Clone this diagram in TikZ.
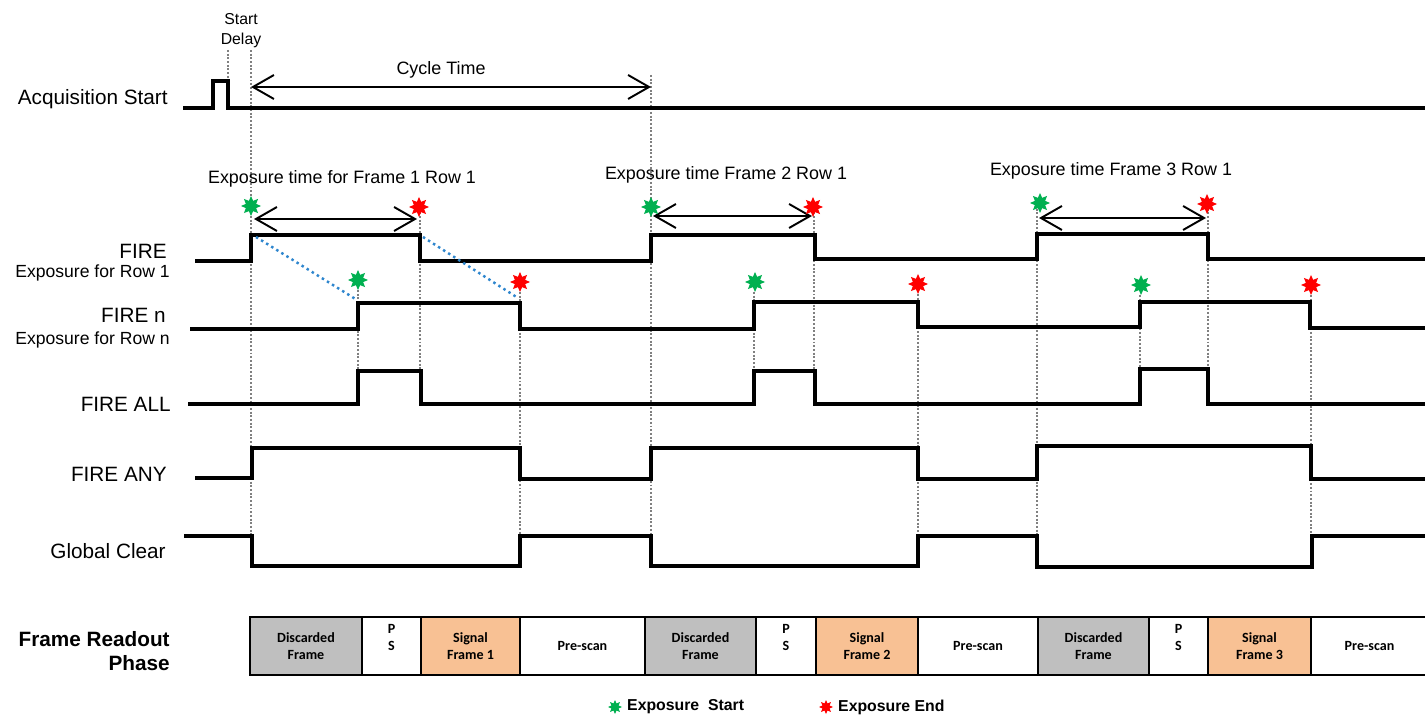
\documentclass[tikz,border=0pt]{standalone}
\usepackage{fontspec}
\setmainfont{Liberation Sans}
\newfontfamily\boxfont{Carlito}
\usepackage{tikz}
\usetikzlibrary{shapes.geometric}
\usetikzlibrary{arrows.meta}
\usepackage{xcolor}

\definecolor{stargreen}{RGB}{0,176,80}
\definecolor{starred}{RGB}{255,0,0}
\definecolor{discgray}{RGB}{191,191,191}
\definecolor{sigorange}{RGB}{248,193,148}
\definecolor{slopeblue}{RGB}{46,134,206}

\tikzset{
  wave/.style={line width=1.8pt, line join=miter},
  guide/.style={densely dotted, gray, line width=1.1pt},
  slope/.style={dotted, slopeblue, line width=1.4pt},
  span/.style={{Straight Barb[length=4.2mm,width=4.8mm]}-{Straight Barb[length=4.2mm,width=4.8mm]}, line width=1.1pt},
  gstar/.style={star, star points=8, star point ratio=1.8, fill=stargreen, minimum size=0.4cm, inner sep=0pt},
  rstar/.style={gstar, fill=starred},
  siglabel/.style={anchor=east, inner sep=0pt, font=\fontsize{11.8}{14}\selectfont},
  sublabel/.style={anchor=east, inner sep=0pt, font=\fontsize{10}{12}\selectfont},
  toplabel/.style={font=\fontsize{10.2}{13}\selectfont},
  phase/.style={draw, line width=1.3pt, minimum height=1.16cm, inner sep=0pt, align=center,
    font=\boxfont\bfseries\fontsize{8}{9.6}\selectfont},
}

\begin{document}
\begin{tikzpicture}[x=0.02cm, y=-0.02cm]
\useasboundingbox (0,0) rectangle (1425,715);

% signal names
\node[siglabel] (acq) at (168,99) {Acquisition Start};
\node[siglabel] (fire) at (167,251) {FIRE};
\node[sublabel] (fireexp) at (170,273) {Exposure for Row 1};
\node[siglabel] (firen) at (166,315) {FIRE n};
\node[sublabel] (firenexp) at (170,340) {Exposure for Row n};
\node[siglabel] (fireall) at (171,404) {FIRE ALL};
\node[siglabel] (fireany) at (167,474) {FIRE ANY};
\node[siglabel] (gclear) at (166,551) {Global Clear};
\node[anchor=east, inner sep=0pt, align=right, font=\bfseries\fontsize{11.8}{13.4}\selectfont] (readout) at (170,651) {Frame Readout\\Phase};

% guide lines
\draw[guide] (228,50) -- (228,80);
\draw[guide] (251,50) -- (251,536);
\draw[guide] (651,75) -- (651,536);
\draw[guide] (358,290) -- (358,371);
\draw[guide] (420,205) -- (420,371);
\draw[guide] (520,292) -- (520,536);
\draw[guide] (754,292) -- (754,371);
\draw[guide] (814,205) -- (814,371);
\draw[guide] (918,294) -- (918,536);
\draw[guide] (1037,205) -- (1037,536);
\draw[guide] (1140,295) -- (1140,371);
\draw[guide] (1208,205) -- (1208,371);
\draw[guide] (1311,295) -- (1311,536);

% waveforms
\draw[wave] (183,108) -- (213,108) -- (213,81) -- (228,81) -- (228,108) -- (1430,108);
\draw[wave] (195,261) -- (251,261) -- (251,235) -- (420,235) -- (420,261) -- (651,261) -- (651,235)
  -- (815,235) -- (815,259) -- (1037,259) -- (1037,234) -- (1208,234) -- (1208,259) -- (1430,259);
\draw[wave] (190,329) -- (358,329) -- (358,303) -- (520,303) -- (520,329) -- (754,329) -- (754,302)
  -- (918,302) -- (918,327) -- (1140,327) -- (1140,302) -- (1310,302) -- (1310,328) -- (1430,328);
\draw[wave] (188,404) -- (358,404) -- (358,371) -- (421,371) -- (421,404) -- (754,404) -- (754,371)
  -- (815,371) -- (815,404) -- (1140,404) -- (1140,369) -- (1208,369) -- (1208,404) -- (1430,404);
\draw[wave] (195,478) -- (252,478) -- (252,448) -- (520,448) -- (520,479) -- (651,479) -- (651,448)
  -- (918,448) -- (918,479) -- (1037,479) -- (1037,446) -- (1311,446) -- (1311,479) -- (1430,479);
\draw[wave] (184,536) -- (252,536) -- (252,566) -- (520,566) -- (520,536) -- (651,536) -- (651,566)
  -- (918,566) -- (918,536) -- (1037,536) -- (1037,567) -- (1312,567) -- (1312,536) -- (1430,536);

% row slopes
\coordinate (sl1a) at (256,237);
\coordinate (sl1b) at (357,300);
\coordinate (sl2a) at (423,237);
\coordinate (sl2b) at (518,298);
\draw[slope] (sl1a) -- (sl1b);
\draw[slope] (sl2a) -- (sl2b);

% start delay and cycle time
\node[font=\fontsize{9}{11.5}\selectfont, align=center] (delay) at (241,31) {Start\\Delay};
\coordinate (cycA) at (251,87);
\coordinate (cycB) at (651,87);
\draw[span] (cycA) -- (cycB);
\node[toplabel] (cyc) at (441,70) {Cycle Time};

% exposure spans
\node[toplabel] (exp1) at (342,179) {Exposure time for Frame 1 Row 1};
\node[toplabel] (exp2) at (726,175) {Exposure time Frame 2 Row 1};
\node[toplabel] (exp3) at (1111,171) {Exposure time Frame 3 Row 1};
\coordinate (e1a) at (254,219);
\coordinate (e1b) at (417,219);
\coordinate (e2a) at (653,216);
\coordinate (e2b) at (812,216);
\coordinate (e3a) at (1039,218);
\coordinate (e3b) at (1206,218);
\draw[span] (e1a) -- (e1b);
\draw[span] (e2a) -- (e2b);
\draw[span] (e3a) -- (e3b);

% exposure start / end marks
\node[gstar] (g1) at (251,206) {};
\node[rstar] (r1) at (419,207) {};
\node[gstar] (g1n) at (358,280) {};
\node[rstar] (r1n) at (520,282) {};
\node[gstar] (g2) at (651,207) {};
\node[rstar] (r2) at (813,207) {};
\node[gstar] (g2n) at (755,282) {};
\node[rstar] (r2n) at (918,284) {};
\node[gstar] (g3) at (1040,203) {};
\node[rstar] (r3) at (1207,204) {};
\node[gstar] (g3n) at (1141,285) {};
\node[rstar] (r3n) at (1311,285) {};

% readout phases
\node[phase, fill=discgray, minimum width=2.24cm] (disc1) at (306,646) {Discarded\\Frame};
\node[phase, fill=white, minimum width=1.18cm] (ps1) at (391.5,646) {P\\S\\~};
\node[phase, fill=sigorange, minimum width=1.98cm] (sig1) at (470.5,646) {Signal\\Frame 1};
\node[phase, fill=white, minimum width=2.5cm] (pre1) at (582.5,646) {Pre-scan};
\node[phase, fill=discgray, minimum width=2.22cm] (disc2) at (700.5,646) {Discarded\\Frame};
\node[phase, fill=white, minimum width=1.2cm] (ps2) at (786,646) {P\\S\\~};
\node[phase, fill=sigorange, minimum width=2.04cm] (sig2) at (867,646) {Signal\\Frame 2};
\node[phase, fill=white, minimum width=2.4cm] (pre2) at (978,646) {Pre-scan};
\node[phase, fill=discgray, minimum width=2.22cm] (disc3) at (1093.5,646) {Discarded\\Frame};
\node[phase, fill=white, minimum width=1.18cm] (ps3) at (1178.5,646) {P\\S\\~};
\node[phase, fill=sigorange, minimum width=2.06cm] (sig3) at (1259.5,646) {Signal\\Frame 3};
\node[phase, fill=white, minimum width=2.34cm] (pre3) at (1369.5,646) {Pre-scan};

% legend
\node[gstar, minimum size=0.28cm] (lgs) at (615,707) {};
\node[anchor=west, font=\bfseries\fontsize{9}{11}\selectfont] (lgst) at (621,707) {Exposure\ \ Start};
\node[rstar, minimum size=0.28cm] (lge) at (826,707) {};
\node[anchor=west, font=\bfseries\fontsize{9}{11}\selectfont] (lget) at (832,707) {Exposure\ End};
\end{tikzpicture}
\end{document}
